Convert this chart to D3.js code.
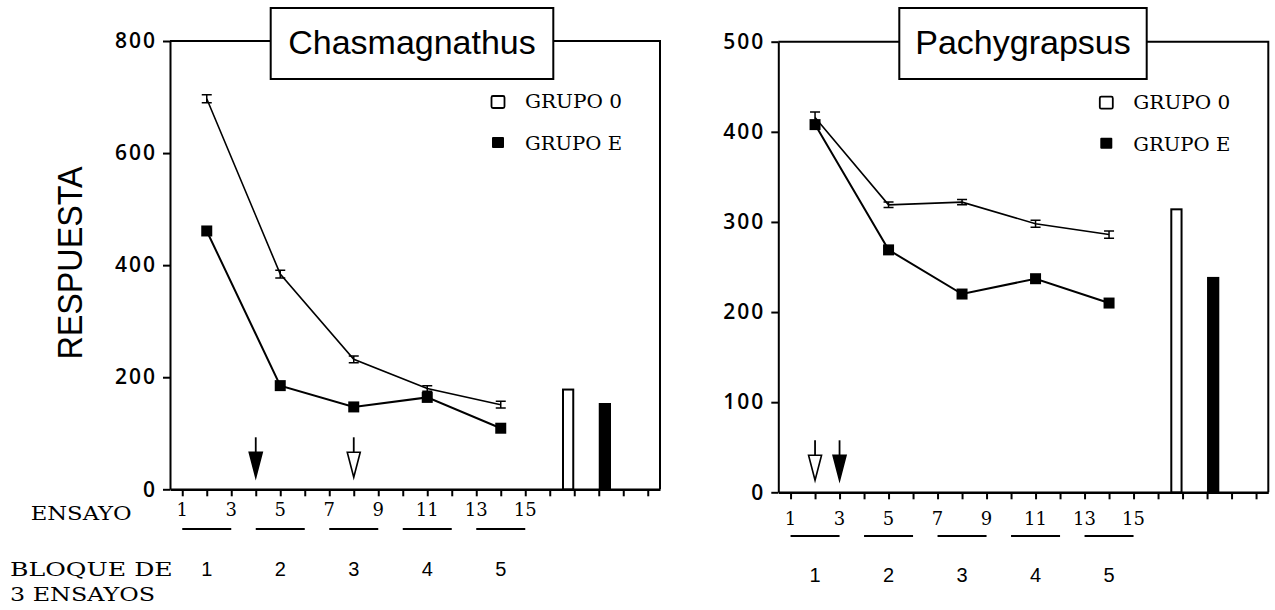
<!DOCTYPE html>
<html>
<head>
<meta charset="utf-8">
<script src="https://cdn.jsdelivr.net/npm/d3@7"></script>
<style>
  html, body { margin: 0; padding: 0; background: #fff; }
  svg { display: block; }
</style>
</head>
<body>
<svg id="chart" width="1275" height="610"></svg>
<script>
// Mean response per block of 3 trials, plotted at the middle trial of each block
const blockTrials = [2, 5, 8, 11, 14];
const blockLabels = ["1", "2", "3", "4", "5"];
const trialLabels = [1, 3, 5, 7, 9, 11, 13, 15];
const groupNames = ["GRUPO 0", "GRUPO E"];

// Chasmagnathus
const chasTitle = "Chasmagnathus";
const chasTicks = [0, 200, 400, 600, 800];
const chasGroup0 = [697, 384, 232, 180, 151];
const chasGroup0Err = [7, 7, 6, 5, 6];
const chasGroupE = [461, 185, 147, 164, 109];
const chasTest = [178, 154];        // test trial: GRUPO 0, GRUPO E
const chasArrowTrials = [8, 4];     // GRUPO 0 (open), GRUPO E (filled)

// Pachygrapsus
const pachTitle = "Pachygrapsus";
const pachTicks = [0, 100, 200, 300, 400, 500];
const pachGroup0 = [416, 319, 322, 298, 286];
const pachGroup0Err = [6, 3, 3, 4, 4];
const pachGroupE = [408, 269, 220, 237, 210];
const pachTest = [314, 239];
const pachArrowTrials = [2, 3];

const SANS = "'Liberation Sans', Arial, Helvetica, sans-serif";
const TYPE = "'DejaVu Serif', 'Liberation Serif', serif";
const NUM = "'Open Sans', 'DejaVu Sans', sans-serif";

const svg = d3.select("#chart");

function drawPanel(p) {
  const W = 490;
  const x = d3.scaleLinear().domain([0.5, 20.5]).range([p.left, p.left + W]);
  const y = d3.scaleLinear().domain([0, p.yMax]).range([p.bottom, p.top]);
  const g = svg.append("g");

  // top and right sides of the frame
  g.append("path")
    .attr("d", `M${p.left},${p.top}H${p.left + W}V${p.bottom}`)
    .attr("fill", "none").attr("stroke", "#000").attr("stroke-width", 2);

  // y axis
  const ya = g.append("g")
    .attr("transform", `translate(${p.left},0)`)
    .call(d3.axisLeft(y).tickValues(p.ticks).tickSize(7).tickSizeOuter(0).tickPadding(6));
  ya.select(".domain").attr("stroke-width", 2);
  ya.selectAll(".tick line").attr("stroke-width", 2);
  ya.selectAll(".tick text")
    .attr("font-family", NUM).attr("font-size", 21).attr("font-weight", 600)
    .attr("letter-spacing", "2px").attr("fill", "#000");

  // x axis: one tick per trial
  const xa = g.append("g")
    .attr("transform", `translate(0,${p.bottom})`)
    .call(d3.axisBottom(x).tickValues(d3.range(1, 21)).tickSize(7).tickSizeOuter(0).tickFormat(""));
  xa.select(".domain").attr("stroke-width", 2.5);
  xa.selectAll(".tick line").attr("stroke-width", 2);

  // test-trial bars
  const barW = x(17) - x(16.5);
  g.append("rect")
    .attr("x", x(16.5) + 1).attr("y", y(p.test[0]))
    .attr("width", barW - 2).attr("height", y(0) - y(p.test[0]))
    .attr("fill", "#fff").attr("stroke", "#000").attr("stroke-width", 2);
  g.append("rect")
    .attr("x", x(18)).attr("y", y(p.test[1]))
    .attr("width", barW).attr("height", y(0) - y(p.test[1]))
    .attr("fill", "#000");

  // series lines
  const line = d3.line().x(d => x(d[0])).y(d => y(d[1]));
  g.append("path").datum(d3.zip(blockTrials, p.g0)).attr("d", line)
    .attr("fill", "none").attr("stroke", "#000").attr("stroke-width", 1.6);
  g.append("path").datum(d3.zip(blockTrials, p.gE)).attr("d", line)
    .attr("fill", "none").attr("stroke", "#000").attr("stroke-width", 2);

  // GRUPO 0: error bars
  const eb = g.selectAll(".eb").data(d3.zip(blockTrials, p.g0, p.g0Err)).enter().append("g");
  eb.append("path")
    .attr("d", d => {
      const cx = x(d[0]), y1 = y(d[1] + d[2]), y2 = y(d[1] - d[2]);
      return `M${cx - 5},${y1}H${cx + 5}M${cx},${y1}V${y2}M${cx - 5},${y2}H${cx + 5}`;
    })
    .attr("fill", "none").attr("stroke", "#000").attr("stroke-width", 1.5);

  // GRUPO E: filled squares
  g.selectAll(".sq").data(d3.zip(blockTrials, p.gE)).enter().append("rect")
    .attr("x", d => x(d[0]) - 5.5).attr("y", d => y(d[1]) - 5.5)
    .attr("width", 11).attr("height", 11).attr("fill", "#000");

  // arrows marking the shock trials
  p.arrows.forEach((t, i) => {
    const cx = x(t), b = p.bottom;
    g.append("line").attr("x1", cx).attr("x2", cx).attr("y1", b - 52).attr("y2", b - 37)
      .attr("stroke", "#000").attr("stroke-width", 1.8);
    g.append("path")
      .attr("d", `M${cx - 6.5},${b - 37}L${cx + 6.5},${b - 37}L${cx},${b - 12}Z`)
      .attr("fill", i === 0 ? "#fff" : "#000")
      .attr("stroke", "#000").attr("stroke-width", 1.6).attr("stroke-linejoin", "miter");
  });

  // legend
  const lx = p.left + 328;
  g.append("rect").attr("x", lx - 6.5).attr("y", p.top + 55).attr("width", 13).attr("height", 12)
    .attr("rx", 1.5).attr("fill", "#fff").attr("stroke", "#000").attr("stroke-width", 1.8);
  g.append("rect").attr("x", lx - 6).attr("y", p.top + 96).attr("width", 12).attr("height", 11)
    .attr("rx", 1).attr("fill", "#000");
  groupNames.forEach((name, i) => {
    g.append("text").attr("x", p.left + 355).attr("y", p.top + 67 + i * 42)
      .attr("font-family", TYPE).attr("font-size", 18)
      .attr("textLength", 97).attr("lengthAdjust", "spacingAndGlyphs")
      .text(name);
  });

  // title box
  g.append("rect").attr("x", p.titleBox[0]).attr("y", 8)
    .attr("width", p.titleBox[1] - p.titleBox[0]).attr("height", 71)
    .attr("fill", "#fff").attr("stroke", "#000").attr("stroke-width", 2);
  g.append("text").attr("x", (p.titleBox[0] + p.titleBox[1]) / 2).attr("y", 54)
    .attr("text-anchor", "middle").attr("font-family", SANS).attr("font-size", 34)
    .text(p.title);

  // trial numbers, block underlines and block numbers
  g.selectAll(".tl").data(trialLabels).enter().append("text")
    .attr("x", d => x(d)).attr("y", p.trialY)
    .attr("text-anchor", "middle").attr("font-family", TYPE).attr("font-size", 18)
    .text(d => d);
  g.selectAll(".ul").data(blockTrials).enter().append("line")
    .attr("x1", d => x(d - 1)).attr("x2", d => x(d + 1))
    .attr("y1", p.lineY).attr("y2", p.lineY)
    .attr("stroke", "#000").attr("stroke-width", 2);
  g.selectAll(".bl").data(d3.zip(blockTrials, blockLabels)).enter().append("text")
    .attr("x", d => x(d[0])).attr("y", p.blockY)
    .attr("text-anchor", "middle").attr("font-family", SANS).attr("font-size", 20)
    .text(d => d[1]);
}

drawPanel({
  title: chasTitle, left: 170, top: 41, bottom: 489.3, yMax: 800, ticks: chasTicks,
  g0: chasGroup0, g0Err: chasGroup0Err, gE: chasGroupE, test: chasTest, arrows: chasArrowTrials,
  titleBox: [270.7, 553.3], trialY: 516, lineY: 529, blockY: 576
});

drawPanel({
  title: pachTitle, left: 778.3, top: 41.7, bottom: 492.3, yMax: 500, ticks: pachTicks,
  g0: pachGroup0, g0Err: pachGroup0Err, gE: pachGroupE, test: pachTest, arrows: pachArrowTrials,
  titleBox: [899.3, 1146.7], trialY: 525, lineY: 536, blockY: 581.7
});

// shared axis titles on the left
svg.append("text")
  .attr("transform", "translate(82,263) rotate(-90)")
  .attr("text-anchor", "middle").attr("font-family", SANS).attr("font-size", 35)
  .attr("textLength", 193).attr("lengthAdjust", "spacingAndGlyphs")
  .text("RESPUESTA");

const rowLabels = [
  { t: "ENSAYO", x: 30.7, y: 520, w: 101 },
  { t: "BLOQUE DE", x: 10, y: 576, w: 162.7 },
  { t: "3 ENSAYOS", x: 10, y: 601, w: 145 }
];
svg.selectAll(".rl").data(rowLabels).enter().append("text")
  .attr("x", d => d.x).attr("y", d => d.y)
  .attr("font-family", TYPE).attr("font-size", 18)
  .attr("textLength", d => d.w).attr("lengthAdjust", "spacingAndGlyphs")
  .text(d => d.t);
</script>
</body>
</html>
